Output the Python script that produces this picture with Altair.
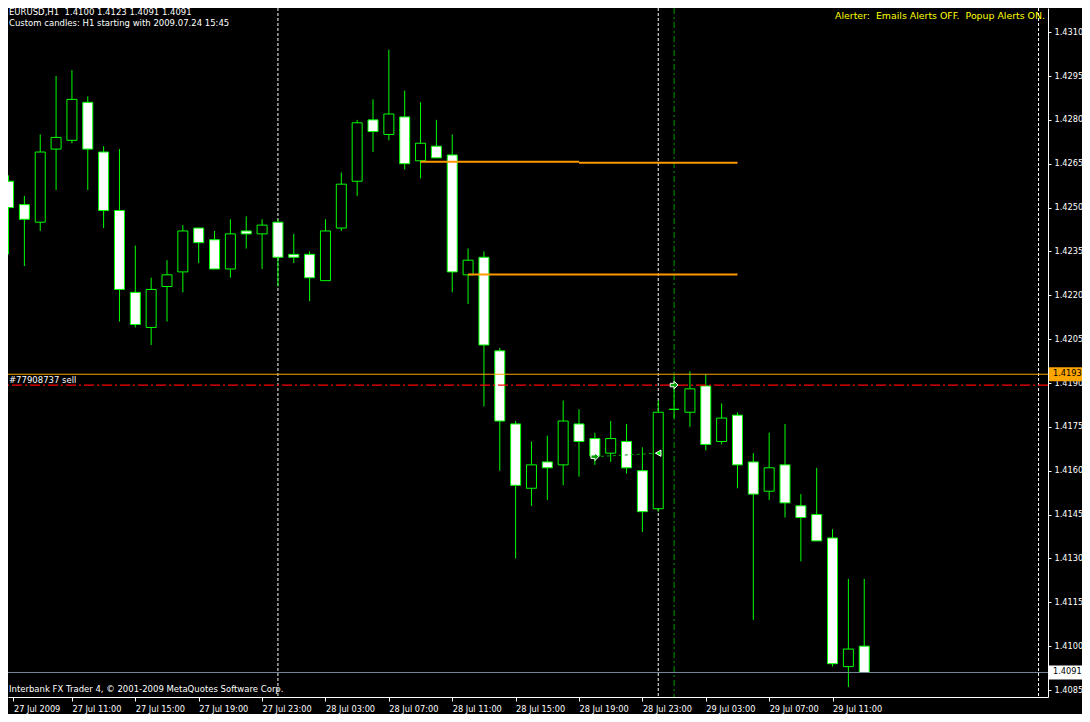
import json
import altair as alt
import pandas as pd

# EURUSD H1 bars; bar 0 = 27 Jul 2009 07:00, one bar per hour
opens = [1.4259, 1.4251, 1.4245, 1.4270, 1.4273, 1.4286, 1.4269, 1.4249, 1.4221, 1.4209,
         1.4223, 1.4228, 1.4243, 1.4239, 1.4229, 1.4242, 1.4241, 1.4245, 1.4234, 1.4234,
         1.4225, 1.4243, 1.4259, 1.4280, 1.4275, 1.4281, 1.4266, 1.4271, 1.4268, 1.4227,
         1.4233, 1.4201, 1.4176, 1.4154, 1.4163, 1.4162, 1.4176, 1.4171, 1.4166, 1.4170,
         1.4160, 1.4147, 1.4181, 1.4180, 1.4189, 1.4170, 1.4179, 1.4163, 1.4153, 1.4162,
         1.4148, 1.4145, 1.4137, 1.4093, 1.4100]
highs = [1.4261, 1.4254, 1.4275, 1.4295, 1.4297, 1.4288, 1.4271, 1.4270, 1.4237, 1.4226,
         1.4232, 1.4244, 1.4243, 1.4242, 1.4246, 1.4247, 1.4246, 1.4246, 1.4241, 1.4235,
         1.4246, 1.4262, 1.4280, 1.4287, 1.4304, 1.4290, 1.4286, 1.4280, 1.4275, 1.4236,
         1.4235, 1.4202, 1.4177, 1.4170, 1.4172, 1.4184, 1.4181, 1.4173, 1.4177, 1.4176,
         1.4168, 1.4184, 1.4192, 1.4194, 1.4193, 1.4183, 1.4180, 1.4166, 1.4173, 1.4176,
         1.4152, 1.4161, 1.4140, 1.4123, 1.4123]
lows = [1.4234, 1.4230, 1.4242, 1.4256, 1.4272, 1.4256, 1.4243, 1.4211, 1.4209, 1.4203,
        1.4211, 1.4221, 1.4231, 1.4229, 1.4226, 1.4236, 1.4229, 1.4223, 1.4231, 1.4218,
        1.4225, 1.4242, 1.4254, 1.4269, 1.4273, 1.4263, 1.4260, 1.4267, 1.4221, 1.4217,
        1.4182, 1.4160, 1.4130, 1.4148, 1.4150, 1.4155, 1.4158, 1.4162, 1.4163, 1.4159,
        1.4139, 1.4146, 1.4178, 1.4175, 1.4167, 1.4169, 1.4154, 1.4109, 1.4150, 1.4144,
        1.4129, 1.4136, 1.4093, 1.4086, 1.4091]
closes = [1.4250, 1.4246, 1.4269, 1.4274, 1.4287, 1.4270, 1.4249, 1.4222, 1.4210, 1.4222,
          1.4227, 1.4242, 1.4238, 1.4229, 1.4241, 1.4241, 1.4244, 1.4233, 1.4233, 1.4226,
          1.4242, 1.4258, 1.4279, 1.4276, 1.4282, 1.4265, 1.4272, 1.4267, 1.4228, 1.4232,
          1.4203, 1.4177, 1.4155, 1.4162, 1.4161, 1.4177, 1.4170, 1.4165, 1.4171, 1.4161,
          1.4146, 1.4180, 1.4181, 1.4188, 1.4169, 1.4178, 1.4162, 1.4152, 1.4161, 1.4149,
          1.4144, 1.4136, 1.4094, 1.4099, 1.4091]

tick_bars = [0.3125, 4, 8, 12, 16, 20, 24, 28, 32, 36, 40, 44, 48, 52]
tick_labels = ["27 Jul 2009", "27 Jul 11:00", "27 Jul 15:00", "27 Jul 19:00", "27 Jul 23:00",
               "28 Jul 03:00", "28 Jul 07:00", "28 Jul 11:00", "28 Jul 15:00", "28 Jul 19:00",
               "28 Jul 23:00", "29 Jul 03:00", "29 Jul 07:00", "29 Jul 11:00"]
price_ticks = [1.4085, 1.4100, 1.4115, 1.4130, 1.4145, 1.4160, 1.4175, 1.4190,
               1.4205, 1.4220, 1.4235, 1.4250, 1.4265, 1.4280, 1.4295, 1.4310]

separator_bars = [17, 41, 65]
trade_open_bars = [42]
ask_price = [1.4193]
order_price = [1.41893]
bid_price = [1.4091]
seg_start = [26, 36, 29]
seg_end = [36, 46, 46]
seg_price = [1.42657, 1.42653, 1.42271]
closed_bars = [37, 41]
closed_prices = [1.41648, 1.41660]
sell_bar = [42]
sell_price = [1.41893]

header1 = "EURUSD,H1\u00a0\u00a01.4100 1.4123 1.4091 1.4091"
header2 = "Custom candles: H1 starting with 2009.07.24 15:45"
alerter = "Alerter:\u00a0\u00a0Emails Alerts OFF.\u00a0\u00a0Popup Alerts ON."
order_label = "#77908737 sell"
copyright_txt = "Interbank FX Trader 4, \u00a9 2001-2009 MetaQuotes Software Corp."

FONT = "DejaVu Sans"
GREEN = "#00FF00"

candles = pd.DataFrame({"k": list(range(len(opens))), "open": opens, "high": highs,
                        "low": lows, "close": closes})

xs = alt.Scale(domain=[0.28125, 65.28125], nice=False, zero=False)
ys = alt.Scale(domain=[1.408261, 1.4318257], nice=False, zero=False)

label_expr = json.dumps(tick_labels) + "[round(datum.value/4)]"
XA = alt.Axis(values=tick_bars, labelExpr=label_expr, orient="bottom", title=None, grid=False,
              domainColor="white", tickColor="white", tickSize=4, labelColor="white",
              labelFont=FONT, labelFontSize=8.2, labelAlign="left", labelBaseline="alphabetic",
              labelPadding=10, labelFlush=False, labelOverlap=False)
YA = alt.Axis(values=price_ticks, format=".4f", orient="right", title=None, grid=False,
              domainColor="white", tickColor="white", tickSize=3, labelColor="white",
              labelFont=FONT, labelFontSize=8.2, labelAlign="left", labelBaseline="middle",
              labelPadding=3, labelFlush=False, labelOverlap=False)


def X(f):
    return alt.X(f, scale=xs, axis=XA)


def Y(f):
    return alt.Y(f, scale=ys, axis=YA)


seps = alt.Chart(pd.DataFrame({"k": separator_bars})).mark_rule(
    color="white", strokeDash=[3, 2], strokeWidth=1, clip=True
).encode(x=X("k:Q"))

trade_v = alt.Chart(pd.DataFrame({"k": trade_open_bars})).mark_rule(
    color="#00A000", strokeDash=[6, 3, 2, 3], strokeWidth=1, clip=True
).encode(x=X("k:Q"))

wicks = alt.Chart(candles).mark_rule(color=GREEN, strokeWidth=1, clip=True).encode(
    x=X("k:Q"), y=Y("low:Q"), y2="high:Q",
)

bodies = alt.Chart(candles).mark_bar(size=10, stroke=GREEN, strokeWidth=1, clip=True).encode(
    x=X("k:Q"), y=Y("open:Q"), y2="close:Q",
    fill=alt.condition("datum.close > datum.open", alt.value("#000000"), alt.value("#FFFFFF")),
)

segs = alt.Chart(pd.DataFrame({"s": seg_start, "e": seg_end, "p": seg_price})).mark_rule(
    color="#FF9900", strokeWidth=2, clip=True
).encode(x=X("s:Q"), x2="e:Q", y=Y("p:Q"))

ask_line = alt.Chart(pd.DataFrame({"p": ask_price})).mark_rule(
    color="#FFA500", strokeWidth=1, clip=True
).encode(y=Y("p:Q"))

order_line = alt.Chart(pd.DataFrame({"p": order_price})).mark_rule(
    color="#FF0000", strokeWidth=1.3, strokeDash=[10, 3, 2, 3], clip=True
).encode(y=Y("p:Q"))

bid_line = alt.Chart(pd.DataFrame({"p": bid_price})).mark_rule(
    color="#778899", strokeWidth=1, clip=True
).encode(y=Y("p:Q"))

closed_df = pd.DataFrame({"k0": [closed_bars[0]], "k1": [closed_bars[1]],
                          "p0": [closed_prices[0]], "p1": [closed_prices[1]]})
closed_line = alt.Chart(closed_df).mark_rule(
    color="#00A000", strokeDash=[3, 3], strokeWidth=1, clip=True
).encode(x=X("k0:Q"), x2="k1:Q", y=Y("p0:Q"), y2="p1:Q")

ARROW = "M -1 -0.45 L 0 -0.45 L 0 -1 L 1 0 L 0 1 L 0 0.45 L -1 0.45 Z"
open_arrow = alt.Chart(pd.DataFrame({"k": [closed_bars[0]], "p": [closed_prices[0]]})).mark_point(
    shape=ARROW, size=60, filled=True, fill="#00A000", stroke="white", strokeWidth=1,
    opacity=1, dx=-4
).encode(x=X("k:Q"), y=Y("p:Q"))

close_tri = alt.Chart(pd.DataFrame({"k": [closed_bars[1]], "p": [closed_prices[1]]})).mark_point(
    shape="triangle-left", size=40, filled=True, fill=GREEN, stroke="white", strokeWidth=1,
    opacity=1, dx=2
).encode(x=X("k:Q"), y=Y("p:Q"))

sell_arrow = alt.Chart(pd.DataFrame({"k": sell_bar, "p": sell_price})).mark_point(
    shape=ARROW, size=60, filled=True, fill="#00A000", stroke="white", strokeWidth=1,
    opacity=1, dx=-3.5
).encode(x=X("k:Q"), y=Y("p:Q"))


def txt(s, x, y, color="white", size=8.5, align="left"):
    return alt.Chart(pd.DataFrame({"t": [s]})).mark_text(
        font=FONT, fontSize=size, color=color, align=align, baseline="alphabetic"
    ).encode(x=alt.value(x), y=alt.value(y), text="t:N")


t1 = txt(header1, 1, 7)
t2 = txt(header2, 1, 17.5)
t3 = txt(alerter, 1037, 10.5, color="#FFFF00", size=9.4, align="right")
t4 = txt(order_label, 1, 375)
t5 = txt(copyright_txt, 1, 684)

box_df = pd.DataFrame({"p": [ask_price[0], bid_price[0]],
                       "lab": [f"{ask_price[0]:.4f}", f"{bid_price[0]:.4f}"],
                       "c": ["ask", "bid"]})
boxes = alt.Chart(box_df).mark_rule(strokeWidth=14).encode(
    x=alt.value(1041), x2=alt.value(1074), y=Y("p:Q"),
    color=alt.Color("c:N", scale=alt.Scale(domain=["ask", "bid"], range=["#FFA500", "#FFFFFF"]),
                    legend=None),
)
box_text = alt.Chart(box_df).mark_text(
    font=FONT, fontSize=8.2, color="black", align="left", baseline="middle"
).encode(x=alt.value(1045), y=Y("p:Q"), text="lab:N")

chart = alt.layer(
    seps, trade_v, wicks, bodies, segs, ask_line, order_line, bid_line, closed_line,
    open_arrow, close_tri, sell_arrow, t1, t2, t3, t4, t5, boxes, box_text
).properties(
    width=1040, height=689,
    autosize=alt.AutoSizeParams(type="none"),
    padding={"left": 0, "top": 0, "right": 34, "bottom": 17},
    background="#000000",
).configure_view(stroke=None)

chart.save("out.html", embed_options={"renderer": "svg", "actions": False})
